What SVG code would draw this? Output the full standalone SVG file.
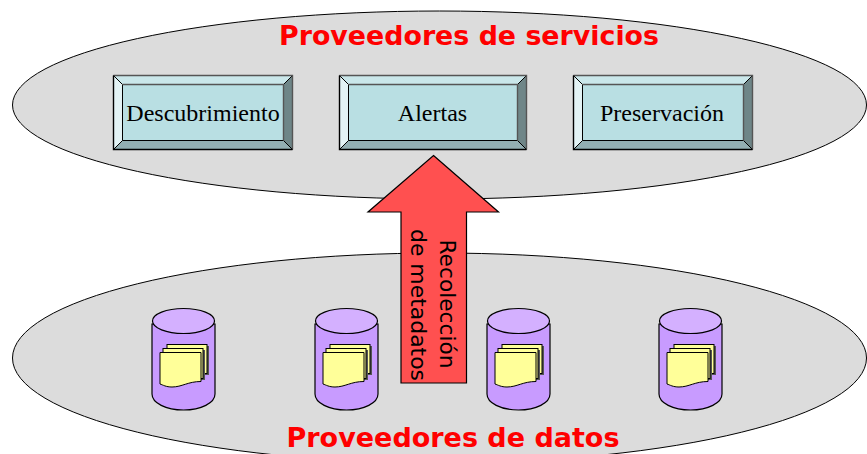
<svg xmlns="http://www.w3.org/2000/svg" width="867" height="454" viewBox="0 0 867 454">
<defs>
<style>
.ell{fill:#dcdcdc;stroke:#000;stroke-width:1}
.title{font-family:"DejaVu Sans",sans-serif;font-weight:bold;font-size:27px;fill:#ff0000;text-anchor:middle}
.lbl{font-family:"Liberation Serif",serif;font-size:24px;fill:#000;text-anchor:middle}
.rot{font-family:"DejaVu Sans",sans-serif;font-size:21px;fill:#000;text-anchor:middle}
.face{fill:#b9dfe3}
.t{fill:#cae7ea}.l{fill:#e3f3f5}.b{fill:#93afb3}.r{fill:#6f8688}
.cyl{fill:#c89bff;stroke:#000;stroke-width:1.2}
.cyltop{fill:#d4b0ff;stroke:#000;stroke-width:1.2}
.pg{fill:#ffff99;stroke:#000;stroke-width:1}
.sh{fill:#555}
.ln{fill:none;stroke:#000;stroke-width:1}
.top{fill:none;stroke:#555;stroke-width:1.4}
.out{fill:none;stroke:#000;stroke-width:1.4}
</style>
<g id="box">
<rect class="face" x="0" y="0" width="179" height="74"/>
<polygon class="t" points="0,0 179,0 170,9 9,9"/>
<polygon class="l" points="0,0 9,9 9,65 0,74"/>
<polygon class="b" points="0,74 9,65 170,65 179,74"/>
<polygon class="r" points="179,0 170,9 170,65 179,74"/>
<path class="ln" d="M0,0L9,9M179,0L170,9M0,74L9,65M179,74L170,65M9,9V65H170"/>
<path class="top" d="M9,9H170V65M0,0H179V74"/>
<path class="out" d="M0,0V74H179"/>
</g>
<g id="box-wide">
<rect class="face" x="0" y="0" width="187" height="74"/>
<polygon class="t" points="0,0 187,0 178,9 9,9"/>
<polygon class="l" points="0,0 9,9 9,65 0,74"/>
<polygon class="b" points="0,74 9,65 178,65 187,74"/>
<polygon class="r" points="187,0 178,9 178,65 187,74"/>
<path class="ln" d="M0,0L9,9M187,0L178,9M0,74L9,65M187,74L178,65M9,9V65H178"/>
<path class="top" d="M9,9H178V65M0,0H187V74"/>
<path class="out" d="M0,0V74H187"/>
</g>
<g id="db">
<path class="cyl" d="M0,16V86C0,95 14,102 31.500,102C49,102 63,95 63,86V16Z"/>
<ellipse class="cyltop" cx="31.500" cy="13" rx="31" ry="12.500"/>
<rect class="sh" x="17" y="38" width="40" height="29"/>
<rect class="pg" x="15" y="36.500" width="40" height="29"/>
<rect class="sh" x="13" y="42" width="40" height="30"/>
<rect class="pg" x="11" y="40.500" width="40" height="30"/>
<path class="pg" d="M8,44.500H49V73.500C36,73.500 30,79 20,79C14,79 11,77 8,76Z"/>
</g>
</defs>
<rect width="867" height="454" fill="#fff"/>
<g id="proveedores-servicios">
<ellipse class="ell" cx="439.500" cy="105" rx="427" ry="94"/>
<text class="title" x="469" y="45" textLength="380" lengthAdjust="spacingAndGlyphs">Proveedores de servicios</text>
</g>
<g id="proveedores-datos">
<ellipse class="ell" cx="439.500" cy="358" rx="427" ry="105"/>
<text class="title" x="453" y="447" textLength="333" lengthAdjust="spacingAndGlyphs">Proveedores de datos</text>
</g>
<g id="descubrimiento"><use href="#box" x="113.500" y="75.500"/><text class="lbl" x="203" y="121">Descubrimiento</text></g>
<g id="alertas"><use href="#box-wide" x="339.500" y="75.500"/><text class="lbl" x="432.500" y="121">Alertas</text></g>
<g id="preservacion"><use href="#box" x="573.500" y="75.500"/><text class="lbl" x="662" y="121">Preservación</text></g>
<g id="db1"><use href="#db" x="152" y="308"/></g>
<g id="db2"><use href="#db" x="315" y="308"/></g>
<g id="db3"><use href="#db" x="487" y="308"/></g>
<g id="db4"><use href="#db" x="659" y="308"/></g>
<g id="connectors">
<polygon points="433.500,155.500 498.500,212 466.500,212 466.500,383 401,383 401,212 368,212" fill="#ff5050" stroke="#000" stroke-width="1.2"/>
<text class="rot" transform="translate(440,304) rotate(90)" textLength="129" lengthAdjust="spacingAndGlyphs">Recolección</text>
<text class="rot" transform="translate(411,305) rotate(90)" textLength="152" lengthAdjust="spacingAndGlyphs">de metadatos</text>
</g>
</svg>
